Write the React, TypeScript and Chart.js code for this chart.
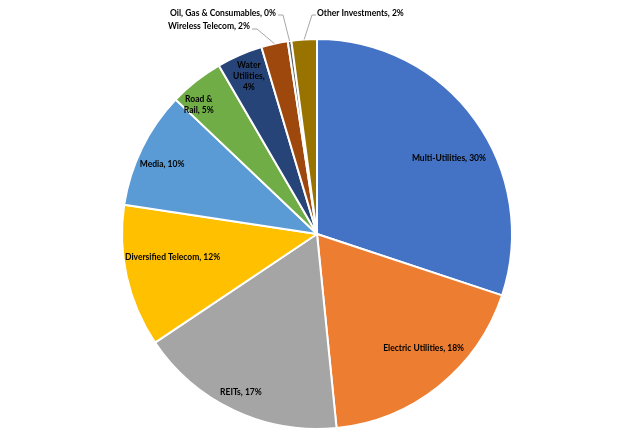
import React, { useEffect, useRef } from "react";
import { Chart, registerables } from "chart.js";

Chart.register(...registerables);

const categories = [
  "Multi-Utilities",
  "Electric Utilities",
  "REITs",
  "Diversified Telecom",
  "Media",
  "Road & Rail",
  "Water Utilities",
  "Wireless Telecom",
  "Oil, Gas & Consumables",
  "Other Investments",
];
const shares = [30.1, 18.3, 17.2, 11.8, 9.7, 4.5, 3.8, 2.2, 0.3, 2.1];
const colors = [
  "#4472C4",
  "#ED7D31",
  "#A5A5A5",
  "#FFC000",
  "#5B9BD5",
  "#70AD47",
  "#264478",
  "#9E480E",
  "#636363",
  "#997300",
];

// label placement (style config, not data)
const inside: Record<number, { r: number; a: number; wrap?: number }> = {
  0: { r: 0.78, a: 6 },
  1: { r: 0.8, a: -4.4 },
  2: { r: 0.9, a: 0.5 },
  3: { r: 0.75, a: 3.5 },
  4: { r: 0.87, a: -2 },
  5: { r: 0.9, a: -4, wrap: 36 },
  6: { r: 0.88, a: 0, wrap: 36 },
};
const outside: Record<number, { tx: number; ty: number; ex: number; ey: number; sx: number; align: CanvasTextAlign }> = {
  7: { tx: -67, ty: -208, ex: -60, ey: -205, sx: -65, align: "right" },
  8: { tx: -41, ty: -221, ex: -34, ey: -219, sx: -39, align: "right" },
  9: { tx: 0, ty: -221, ex: -5, ey: -219, sx: -1, align: "left" },
};

const FONT = "bold 8.5px Lato, 'Open Sans', sans-serif";

function wrapText(ctx: CanvasRenderingContext2D, text: string, max?: number): string[] {
  if (!max) return [text];
  const words = text.split(" ");
  const lines: string[] = [];
  let cur = "";
  for (const w of words) {
    const t = cur ? cur + " " + w : w;
    if (cur && ctx.measureText(t).width > max) {
      lines.push(cur);
      cur = w;
    } else cur = t;
  }
  if (cur) lines.push(cur);
  return lines;
}

const labelPlugin = {
  id: "pieLabels",
  afterDatasetsDraw(chart: any) {
    const ctx: CanvasRenderingContext2D = chart.ctx;
    const meta = chart.getDatasetMeta(0);
    const data = chart.data.datasets[0].data as number[];
    ctx.save();
    ctx.font = FONT;
    ctx.fillStyle = "#000";
    meta.data.forEach((arc: any, i: number) => {
      const { x, y, startAngle, endAngle, outerRadius } = arc.getProps(
        ["x", "y", "startAngle", "endAngle", "outerRadius"],
        true
      );
      const text = `${chart.data.labels[i]}, ${Math.round(data[i])}%`;
      const mid = (startAngle + endAngle) / 2;
      if (inside[i]) {
        const cfg = inside[i];
        const ang = mid + (cfg.a * Math.PI) / 180;
        const px = x + Math.cos(ang) * outerRadius * cfg.r;
        const py = y + Math.sin(ang) * outerRadius * cfg.r;
        const lines = wrapText(ctx, text, cfg.wrap);
        const lh = 11;
        ctx.textAlign = "center";
        ctx.textBaseline = "middle";
        lines.forEach((ln, k) => {
          ctx.fillText(ln, px, py + (k - (lines.length - 1) / 2) * lh);
        });
      } else if (outside[i]) {
        const cfg = outside[i];
        const ex = x + Math.cos(mid) * outerRadius;
        const ey = y + Math.sin(mid) * outerRadius;
        ctx.strokeStyle = "#A6A6A6";
        ctx.lineWidth = 1;
        ctx.beginPath();
        ctx.moveTo(ex, ey);
        ctx.lineTo(x + cfg.ex, y + cfg.ey);
        ctx.lineTo(x + cfg.sx, y + cfg.ey);
        ctx.stroke();
        ctx.textAlign = cfg.align;
        ctx.textBaseline = "middle";
        ctx.fillText(text, x + cfg.tx, y + cfg.ty);
      }
    });
    ctx.restore();
  },
};

export default function App() {
  const ref = useRef<HTMLCanvasElement>(null);
  useEffect(() => {
    if (!ref.current) return;
    const chart = new Chart(ref.current, {
      type: "pie",
      data: {
        labels: categories,
        datasets: [
          {
            data: shares,
            backgroundColor: colors,
            borderColor: "#FFFFFF",
            borderWidth: 2,
          },
        ],
      },
      options: {
        animation: false,
        responsive: false,
        layout: { padding: { top: 38, bottom: 15, left: 121, right: 127 } },
        plugins: {
          legend: { display: false },
          tooltip: { enabled: false },
        },
      },
      plugins: [labelPlugin],
    });
    return () => chart.destroy();
  }, []);
  return (
    <div style={{ position: "fixed", left: 0, top: 0, width: 640, height: 445, background: "#fff" }}>
      <canvas ref={ref} width={640} height={445} style={{ width: 640, height: 445 }} />
    </div>
  );
}
